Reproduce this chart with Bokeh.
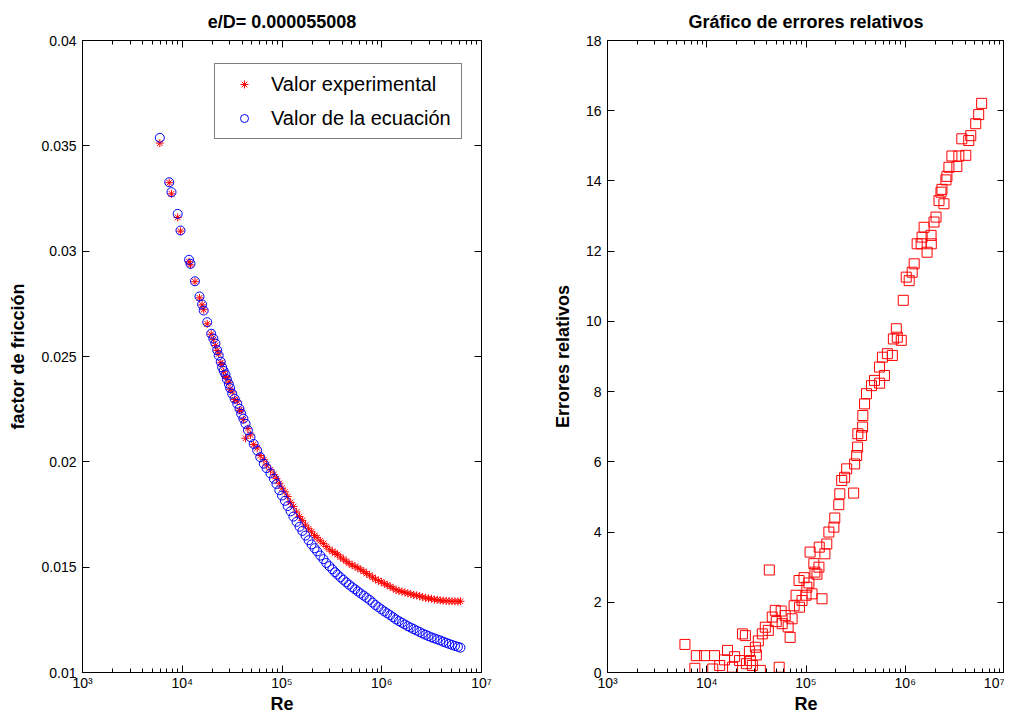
from bokeh.plotting import figure
from bokeh.models import (Range1d, FixedTicker, CustomJSTickFormatter, LogAxis, LinearAxis,
                          Legend, LegendItem)
from bokeh.layouts import row
from bokeh.embed import file_html
from bokeh.resources import INLINE

FONT = "Liberation Sans"

# ---------------- data ----------------
title_left = "e/D= 0.000055008"
title_right = "Gráfico de errores relativos"
legend_labels = ["Valor experimental", "Valor de la ecuación"]

re_vals = [5960, 7400, 7800, 9000, 9600, 11700, 12100, 13400, 14900, 15800,
           16400, 17800, 19500, 20500, 21500, 22400, 23200, 24300, 25100, 26000,
           27100, 28000, 29300, 30200, 31700, 33500, 35600, 37500, 39000, 41000,
           43100, 45500, 48300, 52000, 56400, 60500, 65700, 70000, 76700, 82800,
           88000, 94000, 100000, 107000, 114000, 122000, 130000, 140000, 150000, 160000,
           172000, 185000, 198000, 212000, 225000, 242000, 260000, 278000, 298000, 320000,
           340000, 360000, 385000, 412000, 440000, 470000, 505000, 540000, 575000, 615000,
           660000, 705000, 755000, 810000, 865000, 925000, 990000, 1060000, 1135000, 1215000,
           1300000, 1390000, 1490000, 1595000, 1705000, 1825000, 1955000, 2090000, 2240000, 2400000,
           2570000, 2750000, 2940000, 3150000, 3370000, 3600000, 3860000, 4130000, 4420000, 4730000,
           5060000, 5420000, 5800000, 6150000]

f_exp = [0.03513, 0.03325, 0.03272, 0.03160, 0.03095, 0.02950, 0.02935, 0.02855, 0.02778, 0.02745,
         0.02722, 0.02655, 0.02606, 0.02580, 0.02552, 0.02528, 0.02512, 0.02470, 0.02462, 0.02428,
         0.02405, 0.02400, 0.02378, 0.02345, 0.02332, 0.02296, 0.02288, 0.02245, 0.02242, 0.02200,
         0.02112, 0.02158, 0.02128, 0.02082, 0.02066, 0.02030, 0.02010, 0.01985, 0.01962, 0.01940,
         0.01920, 0.01898, 0.01875, 0.01858, 0.01835, 0.01808, 0.01788, 0.01762, 0.01740, 0.01722,
         0.01700, 0.01682, 0.01668, 0.01650, 0.01640, 0.01625, 0.01612, 0.01598, 0.01585, 0.01575,
         0.01568, 0.01560, 0.01548, 0.01538, 0.01528, 0.01518, 0.01510, 0.01503, 0.01497, 0.01488,
         0.01480, 0.01470, 0.01462, 0.01452, 0.01443, 0.01436, 0.01430, 0.01422, 0.01415, 0.01408,
         0.01400, 0.01392, 0.01388, 0.01384, 0.01380, 0.01376, 0.01372, 0.01368, 0.01366, 0.01362,
         0.01358, 0.01354, 0.01352, 0.01350, 0.01346, 0.01345, 0.01343, 0.01341, 0.01340, 0.01339,
         0.01338, 0.01338, 0.01337, 0.01338]

f_eq = [0.03538, 0.03327, 0.03280, 0.03177, 0.03098, 0.02959, 0.02940, 0.02857, 0.02785, 0.02747,
        0.02718, 0.02663, 0.02608, 0.02585, 0.02562, 0.02530, 0.02505, 0.02475, 0.02449, 0.02432,
        0.02415, 0.02392, 0.02370, 0.02350, 0.02323, 0.02300, 0.02276, 0.02252, 0.02228, 0.02205,
        0.02181, 0.02150, 0.02117, 0.02085, 0.02054, 0.02022, 0.01991, 0.01970, 0.01945, 0.01920,
        0.01895, 0.01865, 0.01840, 0.01815, 0.01790, 0.01765, 0.01740, 0.01715, 0.01692, 0.01672,
        0.01650, 0.01628, 0.01608, 0.01590, 0.01575, 0.01555, 0.01538, 0.01520, 0.01505, 0.01490,
        0.01476, 0.01465, 0.01452, 0.01440, 0.01428, 0.01417, 0.01405, 0.01395, 0.01385, 0.01375,
        0.01365, 0.01355, 0.01345, 0.01332, 0.01320, 0.01310, 0.01300, 0.01290, 0.01281, 0.01272,
        0.01262, 0.01252, 0.01244, 0.01236, 0.01228, 0.01220, 0.01213, 0.01206, 0.01199, 0.01192,
        0.01185, 0.01179, 0.01173, 0.01167, 0.01162, 0.01157, 0.01152, 0.01146, 0.01141, 0.01136,
        0.01131, 0.01126, 0.01122, 0.01118]

re_err = [6030, 7590, 7850, 9510, 11500, 11970, 13500, 15100, 16200, 18200,
          19100, 21400, 22900, 24500, 25100, 26900, 27500, 28800, 30900, 31600,
          33100, 34700, 36300, 38900, 41700, 42700, 45700, 49000, 50100, 53700,
          56200, 57500, 61700, 66100, 69200, 72400, 75900, 79400, 85100, 86000,
          91200, 95500, 100000, 102000, 107000, 110000, 115000, 120000, 123000, 129000,
          135000, 136000, 145000, 155000, 162000, 170000, 191000, 195000, 214000, 219000,
          229000, 245000, 257000, 302000, 309000, 324000, 331000, 333000, 363000, 372000,
          374000, 389000, 407000, 457000, 490000, 550000, 552000, 589000, 617000, 661000,
          741000, 759000, 813000, 832000, 912000, 955000, 1023000, 1096000, 1175000, 1230000,
          1318000, 1445000, 1479000, 1549000, 1660000, 1820000, 1830000, 1950000, 2042000, 2188000,
          2291000, 2344000, 2455000, 2570000, 2630000, 2754000, 2951000, 3311000, 3467000, 3715000,
          4074000, 4365000, 4571000, 5129000, 5495000, 5888000]

err_rel = [0.80, 0.12, 0.48, 0.48, 0.10, 0.48, 0.20, 0.36, 0.63, 0.15,
           0.45, 0.34, 1.10, 1.05, 0.25, 0.60, 0.34, 0.20, 0.72, 0.50,
           0.90, 0.06, 1.10, 1.29, 1.20, 2.92, 1.58, 1.77, 1.45, 0.15,
           1.75, 1.39, 1.62, 1.30, 1.00, 1.53, 1.90, 2.20, 2.62, 1.86,
           2.05, 2.70, 2.20, 2.43, 2.55, 3.43, 2.24, 3.10, 2.86, 2.80,
           3.00, 3.57, 2.10, 3.38, 3.66, 4.00, 4.14, 4.40, 4.78, 5.09,
           5.47, 5.56, 5.80, 5.11, 5.94, 6.18, 6.42, 6.80, 6.75, 6.99,
           7.32, 7.65, 7.94, 8.17, 8.32, 8.70, 8.24, 8.98, 8.46, 9.08,
           9.03, 9.50, 9.79, 9.55, 9.46, 10.60, 11.26, 11.16, 11.40, 11.64,
           12.21, 12.21, 12.40, 12.68, 11.97, 12.45, 12.21, 12.83, 12.97, 13.44,
           13.68, 13.76, 13.35, 14.03, 14.13, 14.39, 14.71, 14.41, 14.71, 15.20,
           14.73, 15.15, 15.29, 15.63, 15.89, 16.21]

x_major = [1e3, 1e4, 1e5, 1e6, 1e7]
x_minor = [m * 10.0 ** e for e in range(3, 7) for m in range(2, 10)]
y_left_ticks = [0.01, 0.015, 0.02, 0.025, 0.03, 0.035, 0.04]
y_right_ticks = [0, 2, 4, 6, 8, 10, 12, 14, 16, 18]

assert len(re_vals) == len(f_exp) == len(f_eq)
assert len(re_err) == len(err_rel)

# ---------------- helpers ----------------
sup_fmt = CustomJSTickFormatter(code=r"""
const sup = ['\u2070','\u00b9','\u00b2','\u00b3','\u2074','\u2075','\u2076','\u2077','\u2078','\u2079'];
const e = Math.round(Math.log10(tick));
return '10' + String(e).split('').map(c => sup[parseInt(c)]).join('');
""")
dec_fmt = CustomJSTickFormatter(code="return String(parseFloat(tick.toFixed(4)));")
blank_fmt = CustomJSTickFormatter(code="return '';")


def style_axis(ax, major_size="14px"):
    ax.axis_line_color = "black"
    ax.major_tick_line_color = "black"
    ax.minor_tick_line_color = "black"
    ax.major_tick_in = 7
    ax.major_tick_out = 0
    ax.minor_tick_in = 4
    ax.minor_tick_out = 0
    ax.major_label_text_font = FONT
    ax.major_label_text_font_size = major_size
    ax.major_label_text_color = "black"
    ax.axis_label_text_font = FONT
    ax.axis_label_text_font_size = "18px"
    ax.axis_label_text_font_style = "bold"
    ax.axis_label_text_color = "black"


def make_fig(y0, y1, yticks, yfmt, ylabel, title, bl, br, fw):
    p = figure(width=bl + fw + br, height=716, x_axis_type="log",
               x_range=Range1d(1e3, 1e7), y_range=Range1d(y0, y1),
               output_backend="svg", toolbar_location=None,
               min_border_left=bl, min_border_right=br,
               min_border_top=40, min_border_bottom=44)
    p.title.text = title
    p.title.align = "center"
    p.title.text_font = FONT
    p.title.text_font_size = "18px"
    p.title.text_font_style = "bold"
    p.title.text_color = "black"
    p.title.standoff = 17
    p.xgrid.visible = False
    p.ygrid.visible = False
    p.outline_line_color = "black"
    p.outline_line_width = 1
    p.background_fill_color = "white"
    p.border_fill_color = "white"

    xt = FixedTicker(ticks=x_major, minor_ticks=x_minor)
    yt = FixedTicker(ticks=yticks)

    xa = p.xaxis[0]
    xa.ticker = xt
    xa.formatter = sup_fmt
    xa.axis_label = "Re"
    xa.axis_label_standoff = 0
    xa.major_label_standoff = 2
    style_axis(xa)

    ya = p.yaxis[0]
    ya.ticker = yt
    ya.formatter = yfmt
    ya.axis_label = ylabel
    ya.axis_label_standoff = 10
    ya.major_label_standoff = 6
    style_axis(ya)
    ya.minor_tick_line_color = None

    top = LogAxis(ticker=xt, formatter=blank_fmt, major_label_standoff=0)
    style_axis(top)
    p.add_layout(top, "above")
    right = LinearAxis(ticker=yt, formatter=blank_fmt, major_label_standoff=0)
    style_axis(right)
    right.minor_tick_line_color = None
    p.add_layout(right, "right")
    return p


# ---------------- left plot ----------------
p1 = make_fig(0.01, 0.04, y_left_ticks, dec_fmt, "factor de fricción", title_left, 82, 20, 399)
r_exp = p1.scatter(re_vals, f_exp, marker="asterisk", size=8, line_color="red", line_width=1)
r_eq = p1.scatter(re_vals, f_eq, marker="circle", size=9, line_color="blue", fill_color=None, line_width=1)

legend = Legend(items=[LegendItem(label=legend_labels[0], renderers=[r_exp]),
                       LegendItem(label=legend_labels[1], renderers=[r_eq])],
                location=(132, 533))
legend.label_text_font = FONT
legend.label_text_font_size = "20px"
legend.label_text_color = "black"
legend.border_line_color = "black"
legend.border_line_width = 1
legend.background_fill_color = "white"
legend.background_fill_alpha = 1.0
legend.padding = 6
legend.spacing = 6
legend.label_height = 28
legend.glyph_height = 20
legend.glyph_width = 46
legend.label_standoff = 4
legend.label_width = 184
legend.margin = 0
p1.add_layout(legend)

# ---------------- right plot ----------------
p2 = make_fig(0, 18, y_right_ticks, blank_fmt, "Errores relativos", title_right, 106, 0, 397)
p2.yaxis[0].formatter = CustomJSTickFormatter(code="return String(Math.round(tick));")
p2.scatter(re_err, err_rel, marker="square", size=10, line_color="red", fill_color=None, line_width=1)

layout = row(p1, p2)
with open("out.html", "w", encoding="utf-8") as fh:
    fh.write(file_html(layout, INLINE))
